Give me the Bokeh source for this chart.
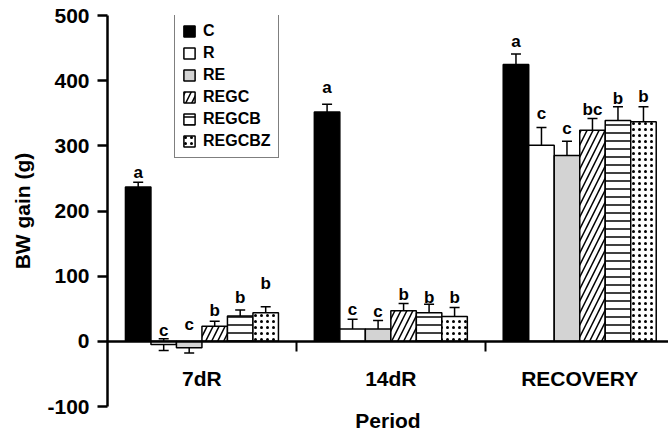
from bokeh.plotting import figure
from bokeh.models import (Range1d, FixedTicker, LinearAxis, Whisker, ColumnDataSource,
                          Legend, LegendItem, TeeHead, Title)
from bokeh.core.properties import value
from bokeh.embed import file_html
from bokeh.resources import INLINE

# ---------------- data ----------------
periods = ["7dR", "14dR", "RECOVERY"]
series = ["C", "R", "RE", "REGC", "REGCB", "REGCBZ"]

C_mean = [237, 352, 425]
C_err = [7, 12, 16]
R_mean = [-5, 19, 301]
R_err = [9, 15, 27]
RE_mean = [-10, 19, 285]
RE_err = [8, 13, 22]
REGC_mean = [23, 47, 324]
REGC_err = [8, 11, 18]
REGCB_mean = [39, 44, 339]
REGCB_err = [9, 13, 21]
REGCBZ_mean = [44, 38, 337]
REGCBZ_err = [9, 14, 23]

C_letters = ["a", "a", "a"]
R_letters = ["c", "c", "c"]
RE_letters = ["c", "c", "c"]
REGC_letters = ["b", "b", "bc"]
REGCB_letters = ["b", "b", "b"]
REGCBZ_letters = ["b", "b", "b"]

# height (g) at which each significance letter sits
C_letter_y = [259, 389, 460]
R_letter_y = [17, 49, 350]
RE_letter_y = [26, 46, 326]
REGC_letter_y = [47, 72, 356]
REGCB_letter_y = [67, 68, 373]
REGCBZ_letter_y = [89, 68, 376]

y_ticks = [-100, 0, 100, 200, 300, 400, 500]
y_tick_labels = ["-100", "0", "100", "200", "300", "400", "500"]

means = [C_mean, R_mean, RE_mean, REGC_mean, REGCB_mean, REGCBZ_mean]
errs = [C_err, R_err, RE_err, REGC_err, REGCB_err, REGCBZ_err]
letters = [C_letters, R_letters, RE_letters, REGC_letters, REGCB_letters, REGCBZ_letters]
letter_ys = [C_letter_y, R_letter_y, RE_letter_y, REGC_letter_y, REGCB_letter_y, REGCBZ_letter_y]

# ---------------- styles ----------------
FONT = value("Liberation Sans")
styles = {
    "C": dict(fill_color="black"),
    "R": dict(fill_color="white"),
    "RE": dict(fill_color="#d3d3d3"),
    "REGC": dict(fill_color="white", hatch_pattern="right_diagonal_line", hatch_color="black",
                 hatch_scale=12, hatch_weight=1.5),
    "REGCB": dict(fill_color="white", hatch_pattern="horizontal_line", hatch_color="black",
                  hatch_scale=8, hatch_weight=1.5),
    "REGCBZ": dict(fill_color="white", hatch_pattern="dot", hatch_color="black",
                   hatch_scale=6, hatch_weight=1.8),
}

bar_w = 0.135
n = len(series)

p = figure(width=668, height=433, x_range=Range1d(0, 2.97), y_range=Range1d(-100, 500),
           output_backend="svg", toolbar_location=None, x_axis_location=None,
           min_border_left=107, min_border_right=0, min_border_top=15, min_border_bottom=27)
p.grid.visible = False
p.outline_line_color = None
p.background_fill_color = "white"
p.border_fill_color = "white"

legend_items = []
for i, name in enumerate(series):
    xs = [g + 0.5 + (i - (n - 1) / 2) * bar_w for g in range(len(periods))]
    m = means[i]
    e = errs[i]
    src = ColumnDataSource(dict(x=xs, top=m,
                                upper=[a + b for a, b in zip(m, e)],
                                lower=[a - b for a, b in zip(m, e)]))
    r = p.vbar(x="x", top="top", bottom=0, width=bar_w, source=src,
               line_color="black", line_width=1.5, **styles[name])
    legend_items.append(LegendItem(label=name, renderers=[r]))
    w = Whisker(source=src, base="x", upper="upper", lower="lower",
                line_color="black", line_width=1.5,
                upper_head=TeeHead(size=10, line_width=1.5, line_color="black"),
                lower_head=TeeHead(size=10, line_width=1.5, line_color="black"))
    p.add_layout(w)
    p.text(x=xs, y=letter_ys[i], text=letters[i], text_font=FONT, text_font_style="bold",
           text_font_size="17px", text_align="center", text_baseline="alphabetic",
           text_color="black")

# ---------------- axes ----------------
yax = p.yaxis[0]
yax.ticker = FixedTicker(ticks=y_ticks, minor_ticks=[])
yax.major_label_overrides = {t: s for t, s in zip(y_ticks, y_tick_labels)}
yax.axis_label = "BW gain (g)"
yax.axis_label_text_font = "Liberation Sans"
yax.axis_label_text_font_style = "bold"
yax.axis_label_text_font_size = "21px"
yax.axis_label_text_color = "black"
yax.axis_label_standoff = 10
yax.major_label_text_font = "Liberation Sans"
yax.major_label_text_font_style = "bold"
yax.major_label_text_font_size = "21px"
yax.major_label_text_color = "black"
yax.major_label_standoff = 8
yax.axis_line_width = 2.5
yax.axis_line_color = "black"
yax.major_tick_line_width = 2.5
yax.major_tick_line_color = "black"
yax.major_tick_out = 10
yax.major_tick_in = 0
yax.minor_tick_line_color = None

# zero line: category labels at group centres, separator ticks between groups
centers = [g + 0.5 for g in range(len(periods))]
separators = [g + 1 for g in range(len(periods))]
xax = LinearAxis(fixed_location=0,
                 ticker=FixedTicker(ticks=centers, minor_ticks=separators),
                 major_label_overrides={c: lab for c, lab in zip(centers, periods)},
                 axis_line_width=2.5, axis_line_color="black",
                 major_tick_line_color=None, major_tick_out=0, major_tick_in=0,
                 minor_tick_line_color="black", minor_tick_line_width=2,
                 minor_tick_out=10, minor_tick_in=0,
                 major_label_standoff=16,
                 major_label_text_font="Liberation Sans", major_label_text_font_style="bold",
                 major_label_text_font_size="21px", major_label_text_color="black")
p.add_layout(xax, "below")

# x axis title, placed below the frame
p.add_layout(Title(text="Period", align="center", text_font="Liberation Sans",
                   text_font_style="bold", text_font_size="21px", text_color="black",
                   standoff=0, offset=0), "below")

legend = Legend(items=legend_items, location=(67, 248),
                label_text_font="Liberation Sans", label_text_font_style="bold",
                label_text_font_size="16px", label_text_color="black",
                glyph_width=14, glyph_height=14, label_height=14, label_standoff=7,
                spacing=4, padding=7, margin=0,
                border_line_color="black", border_line_width=1.5,
                background_fill_color="white", background_fill_alpha=1)
p.add_layout(legend)

open("out.html", "w").write(file_html(p, INLINE))
